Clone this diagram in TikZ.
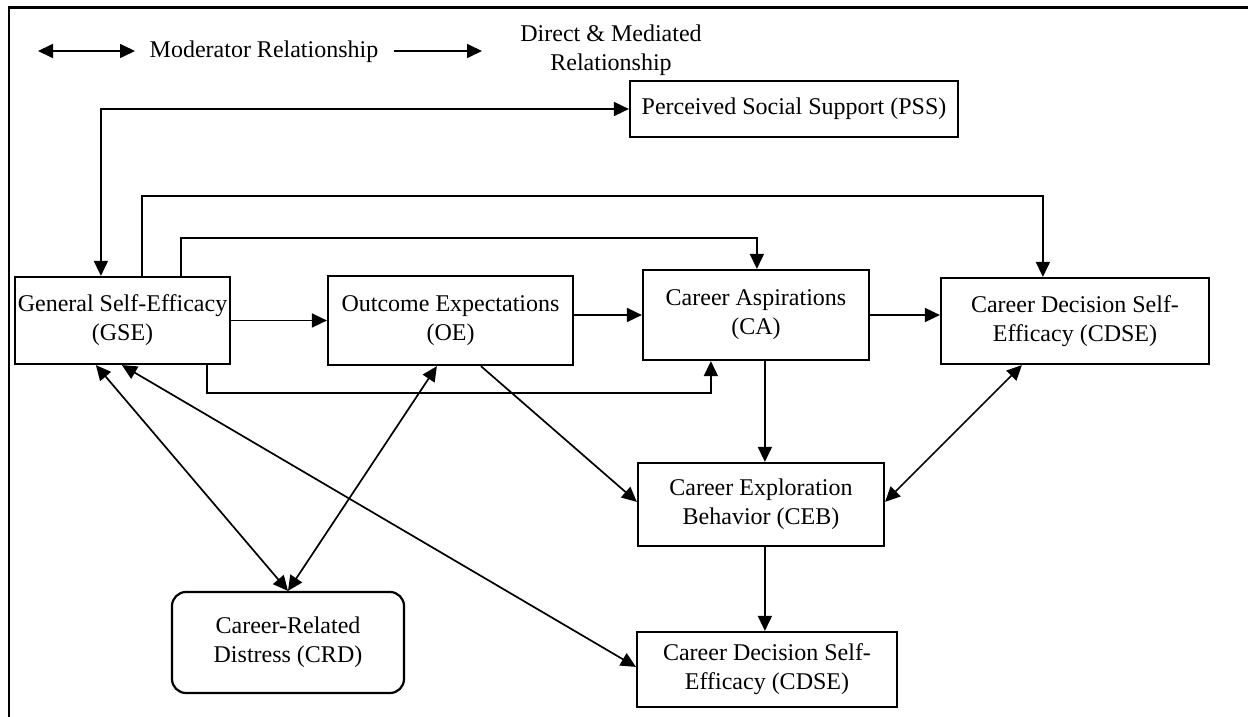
\documentclass[tikz,border=0pt]{standalone}
\usepackage{fontspec}
\setmainfont{Liberation Serif}
\usetikzlibrary{arrows.meta,calc}
\begin{document}
\begin{tikzpicture}[x=0.5pt,y=-0.5pt,
  every node/.style={font=\fontsize{12}{14.5}\selectfont},
  box/.style={draw,line width=1.1pt,inner sep=0pt,align=center},
  frame/.style={line width=1.1pt},
  dir/.style={line width=0.85pt,-{Triangle[length=7.5pt,width=7pt]}},
  mod/.style={line width=0.85pt,{Triangle[length=7.5pt,width=7pt]}-{Triangle[length=7.5pt,width=7pt]}},
  lbl/.style={inner sep=0pt,align=center}
]
\useasboundingbox (0,0) rectangle (1248,717);
% partial frame
\draw[frame] (9,717) -- (9,7.5) -- (1248,7.5);

% legend
\coordinate (la) at (38,51);
\coordinate (lb) at (135,51);
\coordinate (lc) at (394,51);
\coordinate (ld) at (482,51);
\draw[mod] (la) -- (lb);
\node[lbl] (modtxt) at (264,52) {Moderator Relationship};
\draw[dir] (lc) -- (ld);
\node[lbl] (dirtxt) at (611,50) {Direct \& Mediated\\Relationship};

% boxes
\node[box,minimum width=107.5pt,minimum height=43.5pt] (GSE) at (122.5,320.5) {General Self-Efficacy\\(GSE)};
\node[box,minimum width=122.5pt,minimum height=44.5pt] (OE) at (450.5,320.5) {Outcome Expectations\\(OE)};
\node[box,minimum width=113pt,minimum height=45pt] (CA) at (756,315) {Career Aspirations\\(CA)};
\node[box,minimum width=134pt,minimum height=43pt] (CDSEa) at (1075,321) {Career Decision Self-\\Efficacy (CDSE)};
\node[box,minimum width=164pt,minimum height=28pt] (PSS) at (794,109) {Perceived Social Support (PSS)};
\node[box,minimum width=123pt,minimum height=41.5pt] (CEB) at (761,504.5) {Career Exploration\\Behavior (CEB)};
\node[box,minimum width=130pt,minimum height=37.5pt] (CDSEb) at (767,669.5) {Career Decision Self-\\Efficacy (CDSE)};
\node[box,rounded corners=7pt,minimum width=116pt,minimum height=50.5pt] (CRD) at (288,642.5) {Career-Related\\Distress (CRD)};

% connectors
\draw[mod] (PSS.west) -| ($(GSE.north west)+(87,0)$);
\draw[dir] ($(GSE.north west)+(128,0)$) -- ++(0,-80) -| ($(CDSEa.north west)+(103,0)$);
\draw[dir] ($(GSE.north west)+(167,0)$) -- ++(0,-38) -| ($(CA.north west)+(115,0)$);
\draw[dir] ($(GSE.south west)+(193,0)$) -- ++(0,28) -| ($(CA.south west)+(69,0)$);
\draw[dir] (GSE.east) -- (OE.west);
\draw[dir] (OE.east |- CA.west) -- (CA.west);
\draw[dir] (CA.east) -- (CDSEa.west |- CA.east);
\draw[dir] ($(CA.south west)+(123,0)$) -- ($(CEB.north west)+(128,0)$);
\draw[dir] ($(CEB.south west)+(128,0)$) -- ($(CDSEb.north west)+(129,0)$);
\draw[dir] ($(OE.south west)+(154,0)$) -- ($(CEB.north west)+(0,40)$);
\draw[mod] ($(CDSEa.south west)+(82,0)$) -- ($(CEB.north east)+(0,40)$);
\draw[mod] ($(GSE.south west)+(82,0)$) -- (CRD.north);
\draw[mod] ($(OE.south west)+(110,0)$) -- (CRD.north);
\draw[mod] ($(GSE.south west)+(108,0)$) -- ($(CDSEb.north west)+(0,36)$);
\end{tikzpicture}
\end{document}
